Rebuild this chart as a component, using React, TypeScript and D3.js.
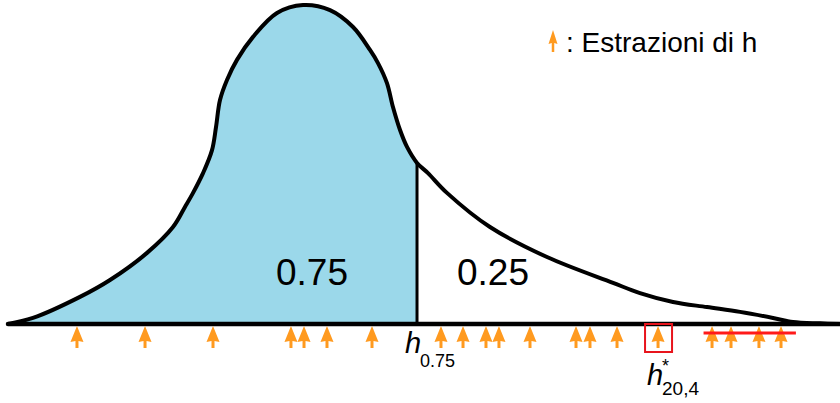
import React from "react";
import * as d3 from "d3";

// Density curve (h units 0..100, density relative to peak)
const curveH = [0, 3.0, 8.65, 12.26, 16.71, 19.83, 21.27, 22.24, 23.44, 24.52, 25.0, 25.48, 26.32, 27.52, 29.45, 32.33, 35.46, 38.7, 41.47, 43.51, 44.47, 45.55, 46.27, 47.12, 47.96, 49.16, 50.48, 52.76, 57.93, 64.78, 72.72, 75.96, 79.93, 84.01, 87.98, 91.95, 94.35, 97.6, 100];
const curveD = [0, 0.019, 0.085, 0.138, 0.223, 0.304, 0.367, 0.411, 0.473, 0.545, 0.617, 0.702, 0.765, 0.828, 0.9, 0.975, 1.0, 0.984, 0.931, 0.859, 0.818, 0.755, 0.68, 0.608, 0.555, 0.505, 0.473, 0.411, 0.304, 0.21, 0.129, 0.097, 0.069, 0.053, 0.038, 0.019, 0.006, 0.002, 0];

const quantileH = 49.16;
const quantileD = 0.505;
const leftLabel = "0.75";
const rightLabel = "0.25";

// Draws of h
const drawsH = [8.29, 16.47, 24.64, 34.01, 35.58, 38.34, 43.75, 52.04, 54.69, 57.45, 59.01, 62.74, 68.27, 69.95, 73.2, 78.13, 84.62, 86.9, 90.26, 92.91];
const boxedIndex = 15;
const strikeStart = 83.6;
const strikeEnd = 94.7;

const legendText = ": Estrazioni di h";

const W = 840;
const H = 403;
const FONT = "'Liberation Sans', Arial, sans-serif";
const ORANGE = "#FF9A1F";
const BLUE = "#9BD8EA";

function Arrow({ x, tip, headH, headW, stemW, stemEnd }: { x: number; tip: number; headH: number; headW: number; stemW: number; stemEnd: number }) {
  const hb = tip + headH;
  const d = `M${x},${tip} L${x + headW / 2},${hb} L${x + stemW / 2},${hb - 1} L${x + stemW / 2},${stemEnd} L${x - stemW / 2},${stemEnd} L${x - stemW / 2},${hb - 1} L${x - headW / 2},${hb} Z`;
  return <path d={d} fill={ORANGE} />;
}

export default function App() {
  const x = d3.scaleLinear().domain([0, 100]).range([8, 840]);
  const y = d3.scaleLinear().domain([0, 1]).range([324, 5]);
  const pts: [number, number][] = curveH.map((h, i) => [h, curveD[i]]);

  const curve = d3.curveCatmullRom.alpha(0.5);
  const line = d3.line<[number, number]>().x((d) => x(d[0])).y((d) => y(d[1])).curve(curve);
  const area = d3.area<[number, number]>().x((d) => x(d[0])).y0(y(0)).y1((d) => y(d[1])).curve(curve);

  const qx = x(quantileH);
  const bx = x(drawsH[boxedIndex]);

  return (
    <svg width={W} height={H} style={{ position: "absolute", left: 0, top: 0, background: "#fff" }} fontFamily={FONT}>
      <defs>
        <clipPath id="leftClip">
          <rect x={0} y={0} width={qx} height={H} />
        </clipPath>
      </defs>
      <path d={area(pts) || ""} fill={BLUE} clipPath="url(#leftClip)" />
      <path d={line(pts) || ""} fill="none" stroke="#000" strokeWidth={4} strokeLinejoin="round" />
      <line x1={qx} x2={qx} y1={y(quantileD)} y2={y(0)} stroke="#000" strokeWidth={3} />
      <line x1={x(0)} x2={W} y1={y(0)} y2={y(0)} stroke="#000" strokeWidth={4.5} strokeLinecap="round" />

      <text x={312} y={285} fontSize={37} textAnchor="middle" fill="#000">{leftLabel}</text>
      <text x={493} y={285} fontSize={37} textAnchor="middle" fill="#000">{rightLabel}</text>

      {drawsH.map((h, i) => (
        <Arrow key={i} x={x(h)} tip={326} headH={16} headW={13} stemW={3} stemEnd={348} />
      ))}

      <line x1={x(strikeStart)} x2={x(strikeEnd)} y1={333} y2={333} stroke="#FF1A1A" strokeWidth={3} />
      <rect x={bx - 13} y={324} width={27} height={28} fill="none" stroke="#E8141C" strokeWidth={2} />

      <text x={405} y={353} fontSize={29} fontStyle="italic" fill="#000">h</text>
      <text x={420} y={367} fontSize={18} fill="#000">0.75</text>

      <text x={647} y={385} fontSize={29} fontStyle="italic" fill="#000">h</text>
      <text x={662} y={372} fontSize={18} fill="#000">*</text>
      <text x={662} y={395} fontSize={19} fill="#000">20,4</text>

      <Arrow x={553} tip={30} headH={14} headW={9} stemW={2.5} stemEnd={52} />
      <text x={566} y={52} fontSize={28} fill="#000">{legendText}</text>
    </svg>
  );
}
